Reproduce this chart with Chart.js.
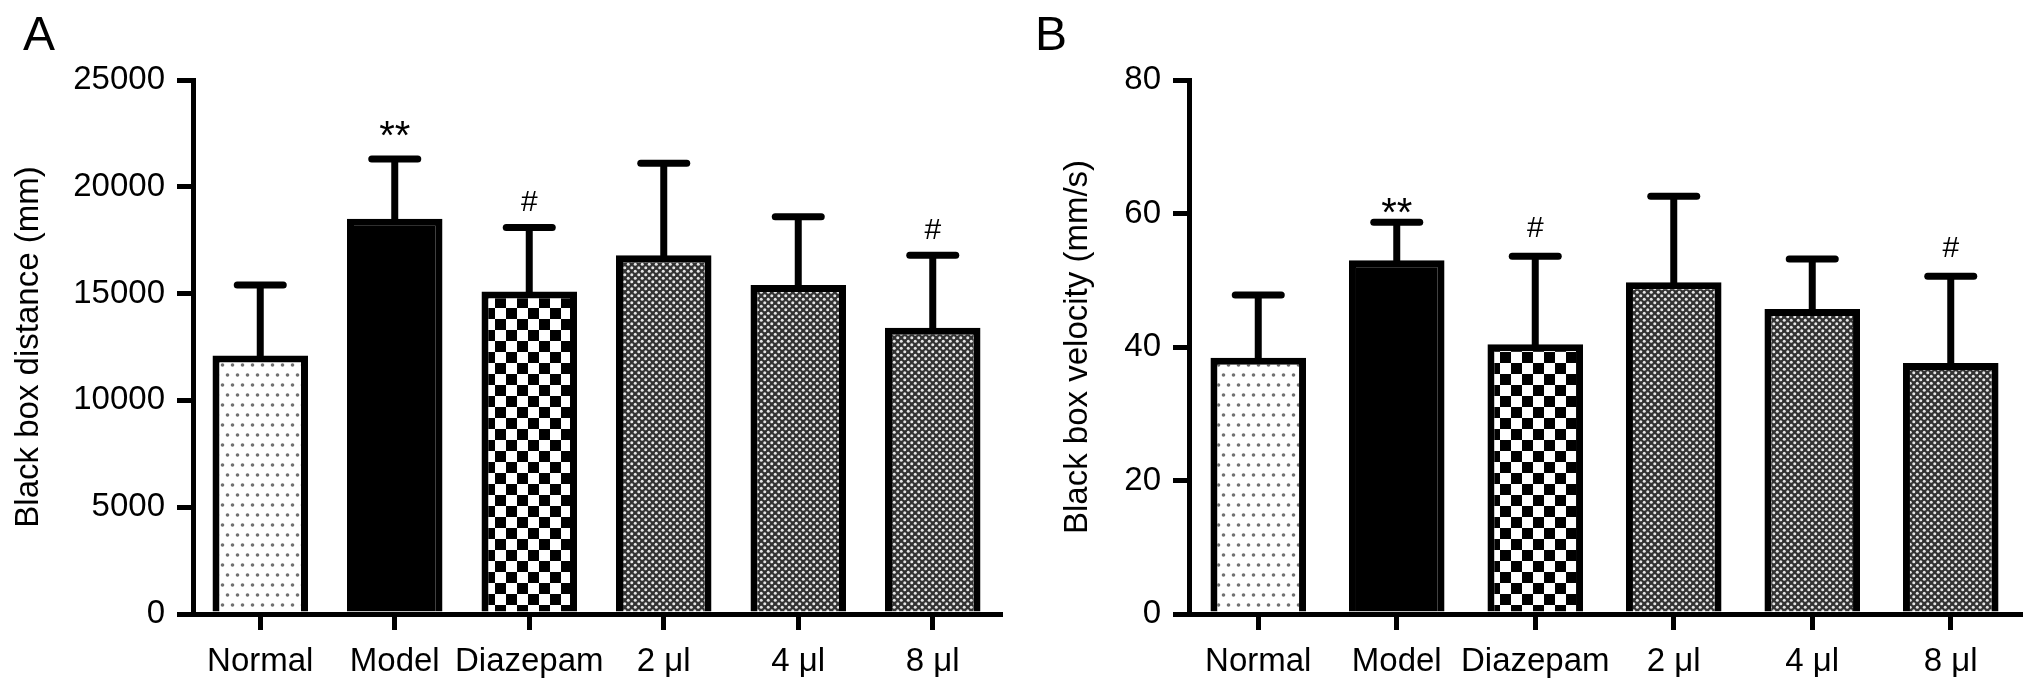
<!DOCTYPE html>
<html>
<head>
<meta charset="utf-8">
<script src="https://cdn.jsdelivr.net/npm/chart.js@4.4.1/dist/chart.umd.min.js"></script>
<style>
  html, body { margin: 0; padding: 0; background: #fff; }
  .panel { position: absolute; top: 0; width: 1016px; height: 694px; }
</style>
</head>
<body>
<div class="panel" style="left:0"><canvas id="chartA"></canvas></div>
<div class="panel" style="left:1016px"><canvas id="chartB"></canvas></div>
<script>
// Data
const groups = ['Normal', 'Model', 'Diazepam', '2 μl', '4 μl', '8 μl'];
const distanceMean = [12100, 18500, 15100, 16800, 15400, 13400];
const distanceSD = [3300, 2800, 3000, 4300, 3200, 3400];
const velocityMean = [38.4, 53.0, 40.4, 49.7, 45.7, 37.6];
const velocitySD = [9.4, 5.7, 13.2, 12.9, 7.5, 13.0];
const distanceMarks = ['', '**', '#', '', '', '#'];
const velocityMarks = ['', '**', '#', '', '', '#'];
const distanceTicks = [0, 5000, 10000, 15000, 20000, 25000];
const velocityTicks = [0, 20, 40, 60, 80];

const FONT = '"Liberation Sans", Arial, Helvetica, sans-serif';

// fill patterns
function tile(w, h, draw) {
    const c = document.createElement('canvas');
    c.width = w; c.height = h;
    const g = c.getContext('2d');
    draw(g);
    return g.createPattern(c, 'repeat');
}

const dotted = tile(10, 20, g => {
    g.fillStyle = '#fff';
    g.fillRect(0, 0, 10, 20);
    g.fillStyle = '#707070';
    [[2.5, 5], [7.5, 15]].forEach(([x, y]) => {
        g.beginPath(); g.arc(x, y, 1.8, 0, Math.PI * 2); g.fill();
    });
});

const checker = tile(22, 22, g => {
    g.fillStyle = '#fff';
    g.fillRect(0, 0, 22, 22);
    g.fillStyle = '#000';
    g.fillRect(0, 0, 11, 11);
    g.fillRect(11, 11, 11, 11);
});

const fine = tile(7, 7, g => {
    g.fillStyle = '#333';
    g.fillRect(0, 0, 7, 7);
    g.fillStyle = '#e6e6e6';
    [[1.75, 1.75], [5.25, 5.25]].forEach(([x, y]) => {
        g.beginPath(); g.arc(x, y, 1.5, 0, Math.PI * 2); g.fill();
    });
});

const fills = [dotted, '#000', checker, fine, fine, fine];

// error bars, significance marks and panel letter
const errorBars = {
    id: 'errorBars',
    afterDatasetsDraw(chart, args, o) {
        const ctx = chart.ctx;
        const y = chart.scales.y;
        const values = chart.data.datasets[0].data;
        const bars = chart.getDatasetMeta(0).data;
        ctx.save();
        ctx.strokeStyle = '#000';
        ctx.fillStyle = '#000';
        ctx.lineWidth = 7;
        values.forEach((v, i) => {
            const bx = bars[i].x;
            const top = y.getPixelForValue(v + o.sd[i]);
            ctx.lineCap = 'butt';
            ctx.beginPath();
            ctx.moveTo(bx, bars[i].y + 3);
            ctx.lineTo(bx, top);
            ctx.stroke();
            ctx.lineCap = 'round';
            ctx.beginPath();
            ctx.moveTo(bx - 23, top);
            ctx.lineTo(bx + 23, top);
            ctx.stroke();
            const m = o.marks[i];
            if (m) {
                ctx.textAlign = 'center';
                ctx.textBaseline = 'alphabetic';
                if (m === '**') {
                    ctx.font = '40px ' + FONT;
                    ctx.fillText(m, bx, top - o.starGap);
                } else {
                    ctx.font = '30px ' + FONT;
                    ctx.fillText(m, bx, top - o.hashGap);
                }
            }
        });
        ctx.font = '48px ' + FONT;
        ctx.textAlign = 'left';
        ctx.textBaseline = 'alphabetic';
        ctx.fillText(o.letter, o.letterX, 50);
        ctx.restore();
    }
};

function makeChart(id, means, sd, marks, ticks, title, letter, layout) {
    const axisFont = { family: FONT, size: 33 };
    const grid = {
        display: true, drawOnChartArea: false, drawTicks: true,
        tickLength: 16, color: '#000', lineWidth: 5
    };
    return new Chart(document.getElementById(id), {
        type: 'bar',
        data: {
            labels: groups,
            datasets: [{
                data: means,
                backgroundColor: fills,
                borderColor: '#000',
                borderWidth: 7,
                barPercentage: layout.bar,
                categoryPercentage: 1
            }]
        },
        options: {
            responsive: true,
            maintainAspectRatio: false,
            animation: false,
            layout: { padding: { left: layout.left, right: layout.right, top: 80, bottom: 0 } },
            plugins: {
                legend: { display: false },
                tooltip: { enabled: false },
                errorBars: {
                    sd: sd, marks: marks, letter: letter, letterX: layout.letterX,
                    starGap: layout.starGap, hashGap: layout.hashGap
                }
            },
            scales: {
                x: {
                    offset: true,
                    grid: Object.assign({}, grid, { offset: false }),
                    border: { display: true, color: '#000', width: 5 },
                    ticks: { color: '#000', font: axisFont, padding: 12, maxRotation: 0, autoSkip: false },
                    afterFit: s => { s.height = 80; }
                },
                y: {
                    min: ticks[0],
                    max: ticks[ticks.length - 1],
                    grid: grid,
                    border: { display: true, color: '#000', width: 5 },
                    ticks: {
                        stepSize: ticks[1] - ticks[0],
                        color: '#000', font: axisFont, padding: 12,
                        callback: v => String(v)
                    },
                    title: {
                        display: true, text: title, color: '#000',
                        font: axisFont, padding: 0
                    },
                    afterFit: s => { s.width = layout.yWidth; }
                }
            }
        },
        plugins: [errorBars]
    });
}

makeChart('chartA', distanceMean, distanceSD, distanceMarks, distanceTicks,
    'Black box distance (mm)', 'A',
    { left: 9, yWidth: 184, right: 16, bar: 0.71, letterX: 23, starGap: 10, hashGap: 16 });

makeChart('chartB', velocityMean, velocitySD, velocityMarks, velocityTicks,
    'Black box velocity (mm/s)', 'B',
    { left: 42, yWidth: 131, right: 12, bar: 0.69, letterX: 19, starGap: -4, hashGap: 19 });
</script>
</body>
</html>
